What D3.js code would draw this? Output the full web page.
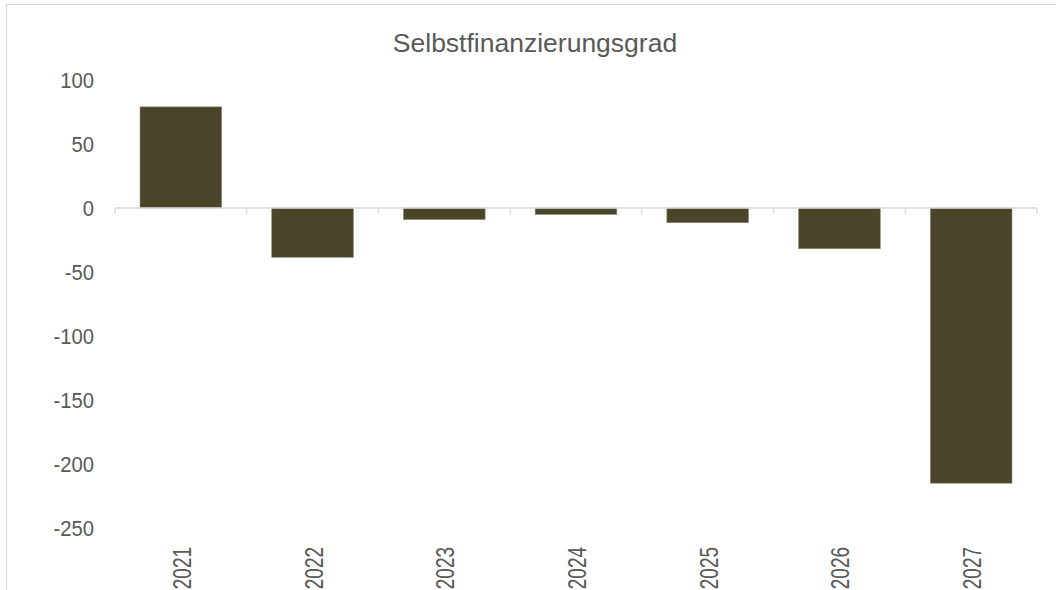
<!DOCTYPE html>
<html>
<head>
<meta charset="utf-8">
<script src="https://cdn.jsdelivr.net/npm/d3@7"></script>
<style>
  body { margin: 0; background: #fff; }
  text { font-family: "Liberation Sans", Arial, sans-serif; fill: #595959; }
</style>
</head>
<body>
<div id="chart"></div>
<script>
const title = 'Selbstfinanzierungsgrad';
const years = ['2021', '2022', '2023', '2024', '2025', '2026', '2027'];
const values = [79, -38.5, -9, -5, -11.5, -31.8, -215];
const yTicks = [100, 50, 0, -50, -100, -150, -200, -250];

const dimensions = {
        width: 1056,
        height: 590,
        margin: { top: 80, right: 19, bottom: 62, left: 115 },
};
dimensions.boundedWidth = dimensions.width - dimensions.margin.left - dimensions.margin.right;
dimensions.boundedHeight = dimensions.height - dimensions.margin.top - dimensions.margin.bottom;

const root = d3.select('#chart')
        .append('svg')
        .attr('width', dimensions.width)
        .attr('height', dimensions.height);

// chart frame (runs off the right and bottom edge)
root.append('rect')
        .attr('x', 6.5)
        .attr('y', 4.5)
        .attr('width', 1100)
        .attr('height', 650)
        .attr('fill', 'none')
        .attr('stroke', '#d9d9d9')
        .attr('stroke-width', 1.2);

root.append('text')
        .attr('x', 535)
        .attr('y', 52)
        .attr('text-anchor', 'middle')
        .style('font-size', '26.5px')
        .text(title);

const svg = root.append('g')
        .attr('transform', `translate(${dimensions.margin.left}, ${dimensions.margin.top})`);

const xScale = d3.scaleBand()
        .domain(years)
        .range([0, dimensions.boundedWidth])
        .padding(0);

const yScale = d3.scaleLinear()
        .domain([-250, 100])
        .range([dimensions.boundedHeight, 0]);

const barWidth = xScale.bandwidth() * 0.62;

svg.selectAll('rect.bar')
        .data(values)
        .enter()
        .append('rect')
        .attr('class', 'bar')
        .attr('x', (d, i) => xScale(years[i]) + (xScale.bandwidth() - barWidth) / 2)
        .attr('width', barWidth)
        .attr('y', d => yScale(Math.max(0, d)))
        .attr('height', d => Math.abs(yScale(d) - yScale(0)))
        .attr('fill', '#4a4529')
        .attr('stroke', '#8c8975')
        .attr('stroke-width', 0.6);

// y axis labels only, plain hyphen for negatives
const yAxis = svg.append('g')
        .call(d3.axisLeft(yScale).tickValues(yTicks).tickSize(0).tickFormat(d => String(d)));
yAxis.select('.domain').remove();
yAxis.selectAll('text')
        .attr('x', 0)
        .attr('transform', 'translate(-21,0) scale(0.9,1)')
        .style('font-size', '22.5px')
        .attr('fill', '#595959');

// category axis sitting on zero
const zeroY = yScale(0);
const xAxis = svg.append('g').attr('transform', `translate(0,${zeroY})`);
xAxis.append('line')
        .attr('x1', 0)
        .attr('x2', dimensions.boundedWidth)
        .attr('stroke', '#d9d9d9')
        .attr('stroke-width', 1.3);
xAxis.selectAll('line.tick')
        .data(years.concat(['end']))
        .enter()
        .append('line')
        .attr('class', 'tick')
        .attr('x1', d => d === 'end' ? dimensions.boundedWidth : xScale(d))
        .attr('x2', d => d === 'end' ? dimensions.boundedWidth : xScale(d))
        .attr('y1', 0)
        .attr('y2', 6)
        .attr('stroke', '#d9d9d9')
        .attr('stroke-width', 1.3);

// year labels, rotated and condensed along the reading direction
svg.selectAll('text.year')
        .data(years)
        .enter()
        .append('text')
        .attr('class', 'year')
        .attr('transform', d => `translate(${xScale(d) + xScale.bandwidth() / 2 + 10},${dimensions.boundedHeight + 19}) rotate(-90) scale(0.76,1)`)
        .attr('text-anchor', 'end')
        .style('font-size', '25px')
        .text(d => d);
</script>
</body>
</html>
